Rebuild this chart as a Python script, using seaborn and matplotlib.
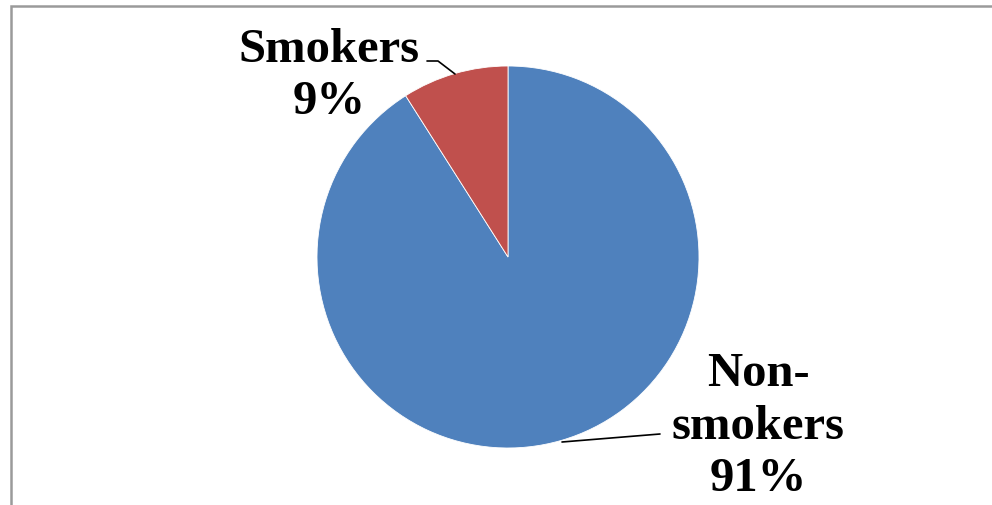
import matplotlib
matplotlib.use("Agg")
import matplotlib.pyplot as plt
import seaborn as sns
from matplotlib.patches import Rectangle

categories = ["Non-smokers", "Smokers"]
values = [91, 9]
label_texts = ["Non-\nsmokers\n91%", "Smokers\n9%"]
colors = ["#4F81BD", "#C0504D"]

sns.set_theme(style="white")
plt.rcParams["font.family"] = ["Liberation Serif", "DejaVu Serif"]

W, H = 992, 506
fig = plt.figure(figsize=(W / 100, H / 100), dpi=100)
ax = fig.add_axes([0, 0, 1, 1])
ax.set_xlim(0, W)
ax.set_ylim(0, H)
ax.set_aspect("equal")
ax.axis("off")

cx, cy, r = 508, H - 258, 191
ax.pie(values, colors=colors, startangle=90, counterclock=False,
       center=(cx, cy), radius=r, frame=True,
       wedgeprops=dict(edgecolor="white", linewidth=0.6))
ax.set_xlim(0, W)
ax.set_ylim(0, H)
ax.axis("off")

# frame border
fig.patches.append(Rectangle((11 / W, -0.1), 1.2, (H - 7) / H + 0.1,
                             transform=fig.transFigure, fill=False,
                             edgecolor="#9a9a9a", linewidth=1.8))

# labels
ax.text(758, H - 427, label_texts[0], ha="center", va="center",
        multialignment="center", fontsize=35, fontweight="bold",
        color="black", linespacing=1.25)
ax.text(329, H - 76, label_texts[1], ha="center", va="center",
        multialignment="center", fontsize=35, fontweight="bold",
        color="black", linespacing=1.25)

# leader lines
ax.plot([427, 438, 455], [H - 62, H - 62, H - 75], color="black", lw=1.2)
ax.plot([562, 660], [H - 443, H - 435], color="black", lw=1.2)

fig.savefig("out.png", dpi=100)
